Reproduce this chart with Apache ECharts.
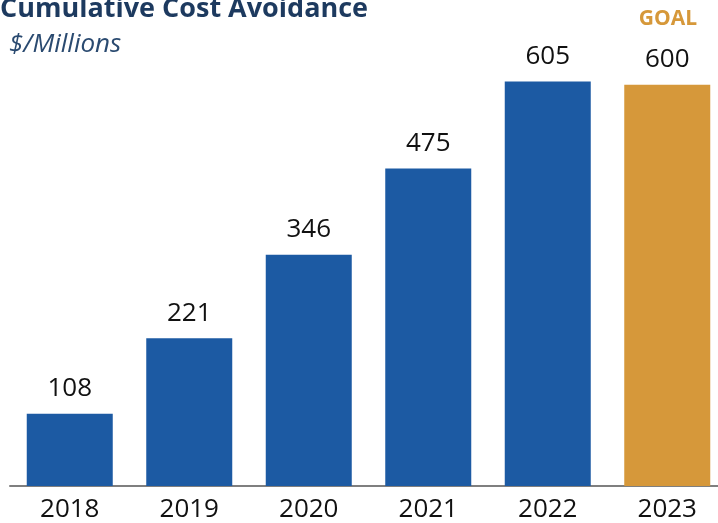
<!DOCTYPE html>
<html>
<head>
<meta charset="utf-8">
<script src="https://cdn.jsdelivr.net/npm/echarts@6/dist/echarts.min.js"></script>
<style>
  html, body { margin: 0; padding: 0; background: #fff; overflow: hidden; }
  /* the last bar touches the right edge, so the canvas is a bit wider than the window */
  #chart { width: 730px; height: 523px; }
</style>
</head>
<body>
<div id="chart"></div>
<script>
var years = ['2018', '2019', '2020', '2021', '2022', '2023'];
var values = [108, 221, 346, 475, 605, 600];
var barColors = ['#1c5aa3', '#1c5aa3', '#1c5aa3', '#1c5aa3', '#1c5aa3', '#d6983a'];

var chart = echarts.init(document.getElementById('chart'));

var data = [];
for (var i = 0; i < values.length; i++) {
    data.push({
        value: values[i],
        itemStyle: { color: barColors[i] }
    });
}

var option = {
    animation: false,
    textStyle: { fontFamily: 'Open Sans' },
    title: [
        {
            text: 'Cumulative Cost Avoidance',
            left: 0,
            top: -4,
            padding: 0,
            textStyle: { fontSize: 27, fontWeight: 'bold', color: '#1d3a5f', fontFamily: 'Open Sans' }
        },
        {
            text: '$/Millions',
            left: 9,
            top: 32,
            padding: 0,
            textStyle: { fontSize: 26, fontStyle: 'italic', fontWeight: 'normal', color: '#2a4a70', fontFamily: 'Open Sans' }
        },
        {
            text: 'GOAL',
            left: 668,
            textAlign: 'center',
            top: 9,
            padding: 0,
            textStyle: { fontSize: 21, fontWeight: 'bold', color: '#d6983a', fontFamily: 'Open Sans' }
        }
    ],
    grid: {
        left: 10,
        top: 18,
        width: 717,
        height: 469
    },
    xAxis: {
        type: 'category',
        data: years,
        axisLine: { lineStyle: { color: '#7f7f7f', width: 2 } },
        axisTick: { show: false },
        axisLabel: { fontSize: 26, color: '#111', margin: 11, fontFamily: 'Open Sans' }
    },
    yAxis: {
        type: 'value',
        min: 0,
        max: 700,
        show: false,
        splitLine: { show: false }
    },
    series: [{
        type: 'bar',
        data: data,
        barWidth: 86,
        label: {
            show: true,
            position: 'top',
            distance: 12,
            fontSize: 26,
            color: '#111',
            fontFamily: 'Open Sans'
        }
    }]
};

chart.setOption(option);
</script>
</body>
</html>
